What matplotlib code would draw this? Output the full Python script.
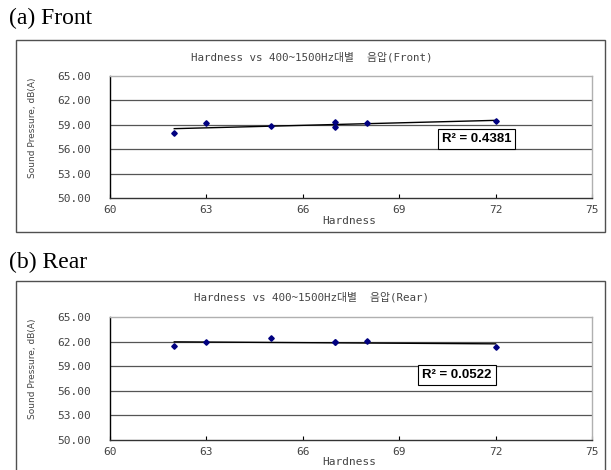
import matplotlib.pyplot as plt
import matplotlib.patches as mpatches
import numpy as np

# ==== データ ====
hardness = [62, 63, 65, 67, 67, 68, 72]
front_spl = [57.95, 59.22, 58.85, 59.30, 58.73, 59.26, 59.43]
rear_spl = [61.46, 61.91, 62.40, 61.98, 61.90, 62.07, 61.34]

r2_labels = ["R² = 0.4381", "R² = 0.0522"]
titles = ["Hardness vs 400~1500Hz대별  음압(Front)",
          "Hardness vs 400~1500Hz대별  음압(Rear)"]
panel_labels = ["(a) Front", "(b) Rear"]

x_ticks = [60, 63, 66, 69, 72, 75]
y_ticks = [50, 53, 56, 59, 62, 65]

W, H = 611, 470
fig = plt.figure(figsize=(W / 100, H / 100), dpi=100)

mono = ['DejaVu Sans Mono', 'Noto Sans CJK KR']
txt_color = '#444444'


def fx(px):
    return px / W


def fy(py):
    return 1 - py / H


# ==== パネル設定 (ピクセル) ====
panels = [
    dict(y=front_spl, box=(16, 40, 605, 232), plot_top=76, plot_bot=198,
         title_y=57, label_y=18, xlabel_y=221, r2_pos=(71.4, 57.3)),
    dict(y=rear_spl, box=(16, 281, 605, 475), plot_top=317, plot_bot=440,
         title_y=297, label_y=262, xlabel_y=462, r2_pos=(70.8, 57.9)),
]

for i, p in enumerate(panels):
    # 外枠
    x0, y0, x1, y1 = p["box"]
    fig.add_artist(mpatches.Rectangle((fx(x0), fy(y1)), fx(x1 - x0), (y1 - y0) / H,
                                      transform=fig.transFigure, fill=False,
                                      edgecolor='#505050', linewidth=1.0))
    fig.text(fx(9), fy(p["label_y"]), panel_labels[i], family='Liberation Serif',
             fontsize=17, va='center', ha='left')
    fig.text(fx(312), fy(p["title_y"]), titles[i], family=mono, fontsize=7.8,
             ha='center', va='center', color=txt_color)

    ax = fig.add_axes([fx(110), fy(p["plot_bot"]), fx(592 - 110),
                       (p["plot_bot"] - p["plot_top"]) / H])
    ax.set_xlim(60, 75)
    ax.set_ylim(50, 65)
    ax.set_xticks(x_ticks)
    ax.set_yticks(y_ticks)
    ax.set_xticklabels([str(t) for t in x_ticks], family=mono, fontsize=8, color=txt_color)
    ax.set_yticklabels([f"{t:.2f}" for t in y_ticks], family=mono, fontsize=8, color=txt_color)
    ax.tick_params(axis='x', direction='in', length=3, width=0.8, pad=5)
    ax.tick_params(axis='y', length=0, pad=14)

    for v in y_ticks[1:-1]:
        ax.axhline(v, color='#555555', linewidth=0.9, zorder=1)
    ax.spines['left'].set_color('black')
    ax.spines['bottom'].set_color('#333333')
    ax.spines['top'].set_color('#b0b0b0')
    ax.spines['right'].set_color('#b0b0b0')
    for s in ax.spines.values():
        s.set_linewidth(1.0)

    # トレンドライン
    coef = np.polyfit(hardness, p["y"], 1)
    xs = np.array([min(hardness), max(hardness)])
    ax.plot(xs, np.polyval(coef, xs), color='black', linewidth=1.0, zorder=2)
    ax.plot(hardness, p["y"], linestyle='none', marker='D', markersize=2.8,
            color='#000080', zorder=3)

    ax.text(p["r2_pos"][0], p["r2_pos"][1], r2_labels[i],
            family='Liberation Sans', fontsize=9.5, fontweight='bold',
            ha='center', va='center',
            bbox=dict(boxstyle='square,pad=0.3', facecolor='white',
                      edgecolor='black', linewidth=0.8), zorder=4)

    fig.text(fx(349), fy(p["xlabel_y"]), "Hardness", family=mono, fontsize=8,
             ha='center', va='center', color=txt_color)
    fig.text(fx(33), (fy(p["plot_top"]) + fy(p["plot_bot"])) / 2 + 0.02,
             "Sound Pressure, dB(A)", family=['Liberation Sans Narrow', 'DejaVu Sans'],
             fontsize=6.5, rotation=90, ha='center', va='center', color=txt_color)

plt.savefig("out.png", dpi=100)
